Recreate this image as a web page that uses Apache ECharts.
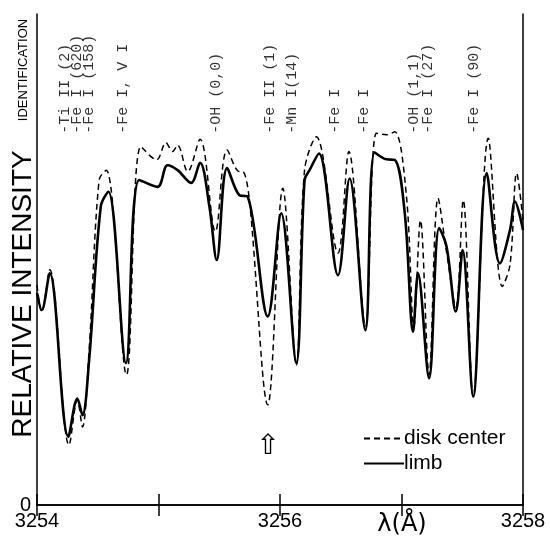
<!DOCTYPE html>
<html><head><meta charset="utf-8">
<script src="https://cdn.jsdelivr.net/npm/echarts@6/dist/echarts.min.js"></script>
<style>html,body{margin:0;padding:0;background:#fff}#c{width:550px;height:538px}</style>
</head><body><div id="c"></div>
<script>
// wavelength (Å) and relative intensity (0 at bottom, 100 at top frame)
const limbX = [3254.0,3254.039,3254.105,3254.258,3254.332,3254.374,3254.429,3254.525,3254.588,3254.732,3254.841,3254.992,3255.075,3255.157,3255.268,3255.342,3255.419,3255.479,3255.565,3255.666,3255.734,3255.899,3256.010,3256.134,3256.202,3256.243,3256.320,3256.477,3256.573,3256.703,3256.779,3256.876,3256.944,3257.027,3257.095,3257.136,3257.227,3257.310,3257.371,3257.447,3257.503,3257.590,3257.701,3257.810,3257.893,3257.934,3258.0];
const limbY = [43.2,39.7,47.2,13.9,21.7,18.3,29.5,60.8,63.8,28.9,66.2,64.8,69.2,68.2,65.6,69.7,60.8,49.9,68.6,63.1,62.8,38.4,59.4,28.9,66.2,68.2,71.6,46.8,66.5,35.6,71.8,70.4,70.3,59.4,35.3,47.2,25.8,56.4,52.6,39.4,51.9,22.1,67.6,49.2,56.0,61.8,56.0];
const diskX = [3254.0,3254.039,3254.105,3254.264,3254.332,3254.374,3254.429,3254.511,3254.571,3254.736,3254.855,3254.984,3255.061,3255.116,3255.157,3255.240,3255.342,3255.468,3255.565,3255.666,3255.693,3255.748,3255.899,3256.023,3256.134,3256.202,3256.299,3256.477,3256.567,3256.703,3256.793,3256.876,3256.944,3257.041,3257.101,3257.156,3257.227,3257.301,3257.371,3257.447,3257.508,3257.590,3257.714,3257.829,3257.893,3257.948,3258.0];
const diskY = [44.8,39.3,47.9,12.2,21.4,15.9,31.6,66.2,68.2,26.5,73.0,70.3,73.8,72.0,73.3,67.9,74.5,55.7,72.3,67.9,67.9,62.1,20.4,64.5,28.5,68.2,75.0,51.3,72.0,36.3,75.7,75.4,76.0,62.8,36.3,58.0,26.5,62.5,51.5,40.3,62.1,22.1,74.7,44.5,48.9,67.6,58.0];
const idNames = ['-Ti II (2)','-Fe I (620)','-Fe I (158)','-Fe I, V I','-OH (0,0)','-Fe II (1)','-Mn I(14)','-Fe I','-Fe I','-OH (1,1)','-Fe I (27)','-Fe I (90)'];
const idWave = [3254.230,3254.330,3254.432,3254.705,3255.472,3255.917,3256.099,3256.457,3256.689,3257.105,3257.220,3257.600];
const xTickLabels = {3254:'3254',3256:'3256',3258:'3258'};
const seriesNames = ['disk center','limb'];

const zip = (a,b)=>a.map((v,i)=>[v,b[i]]);
const chart = echarts.init(document.getElementById('c'));
const idLevel = 75.6;
chart.setOption({
  animation:false,
  backgroundColor:'#fff',
  grid:{left:37,right:27,top:14,bottom:33},
  legend:{
    data:seriesNames, orient:'vertical', left:358, top:423, itemWidth:40, itemHeight:14, itemGap:4,
    itemStyle:{opacity:0},
    textStyle:{fontFamily:'Liberation Sans',fontSize:21,color:'#000',padding:[0,0,0,-5]},
    selectedMode:false
  },
  xAxis:[{
    type:'value', min:3254, max:3258, interval:1,
    axisLine:{lineStyle:{color:'#000',width:1.5}},
    axisTick:{inside:true,length:11,lineStyle:{color:'#000',width:1.5}},
    splitLine:{show:false},
    axisLabel:{formatter:v=>xTickLabels[v]||'',fontFamily:'Liberation Sans',fontSize:20,color:'#000',margin:6,showMinLabel:true,showMaxLabel:true}
  },{
    type:'value', position:'top', min:3254, max:3258, interval:1,
    axisLine:{lineStyle:{color:'#000',width:1.5}},
    axisTick:{inside:true,length:11,lineStyle:{color:'#000',width:1.5}},
    splitLine:{show:false}, axisLabel:{show:false}
  }],
  yAxis:[{
    type:'value', min:0, max:100, interval:100,
    axisLine:{show:true,lineStyle:{color:'#000',width:1.5}},
    axisTick:{show:false}, splitLine:{show:false},
    axisLabel:{formatter:v=>v===0?'0':'',fontFamily:'Liberation Sans',fontSize:20,color:'#000',margin:6,padding:[0,0,6,0]}
  },{
    type:'value', position:'right', min:0, max:100, interval:100,
    axisLine:{show:true,lineStyle:{color:'#000',width:1.5}},
    axisTick:{show:false}, splitLine:{show:false}, axisLabel:{show:false}
  }],
  series:[
    {name:seriesNames[0],type:'line',data:zip(diskX,diskY),smooth:0.35,symbol:'none',
     lineStyle:{color:'#000',width:1.5,type:[6,4]},itemStyle:{color:'#000'}},
    {name:seriesNames[1],type:'line',data:zip(limbX,limbY),smooth:0.35,symbol:'none',
     lineStyle:{color:'#000',width:2.6},itemStyle:{color:'#000'}},
    {name:'id',type:'scatter',symbolSize:0,silent:true,
     data:idWave.map((w,i)=>({value:[w,idLevel],name:idNames[i]})),
     label:{show:true,formatter:p=>p.name,rotate:90,position:'inside',align:'left',verticalAlign:'middle',
       fontFamily:'Liberation Mono',fontSize:15,color:'#000'}}
  ],
  graphic:[
    {type:'text',x:23,y:294,rotation:Math.PI/2,style:{text:'RELATIVE INTENSITY',font:'28px "Liberation Sans"',fill:'#000',textAlign:'center',textVerticalAlign:'middle'}},
    {type:'text',x:23,y:70,rotation:Math.PI/2,style:{text:'IDENTIFICATION',font:'13px "Liberation Sans"',fill:'#000',textAlign:'center',textVerticalAlign:'middle'}},
    {type:'text',x:402,y:525,style:{text:'λ(Å)',font:'24px "DejaVu Sans"',fill:'#000',textAlign:'center',textVerticalAlign:'middle'}},
    {type:'text',x:268,y:447,style:{text:'⇧',font:'28px "DejaVu Sans"',fill:'#000',textAlign:'center',textVerticalAlign:'middle'}}
  ]
});
</script></body></html>
